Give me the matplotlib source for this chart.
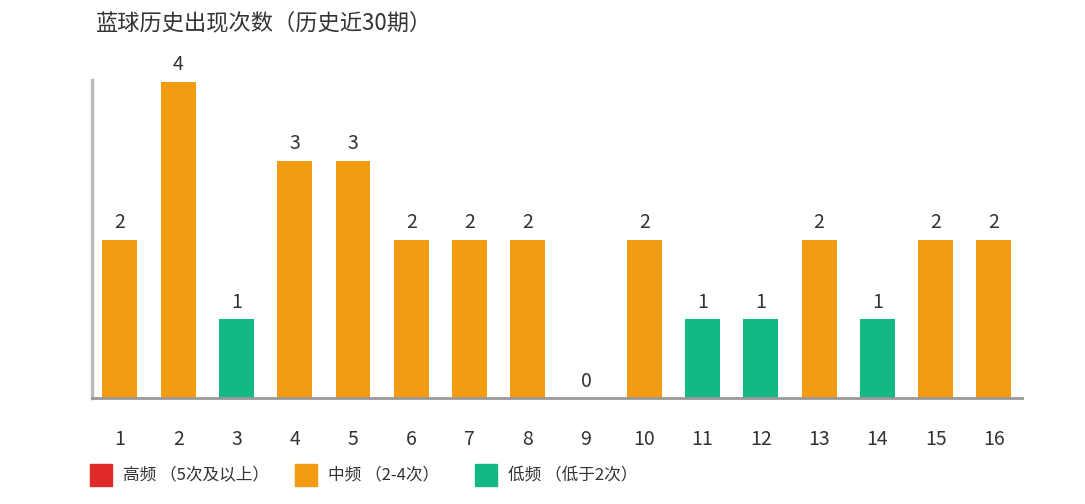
import matplotlib
matplotlib.use("Agg")
import matplotlib.pyplot as plt
from matplotlib.patches import Rectangle

plt.rcParams['font.family'] = ['Noto Sans CJK SC', 'DejaVu Sans']

balls = list(range(1, 17))
counts = [2, 4, 1, 3, 3, 2, 2, 2, 0, 2, 1, 1, 2, 1, 2, 2]
title = "蓝球历史出现次数（历史近30期）"
legend_labels = ["高频 （5次及以上）", "中频 （2-4次）", "低频 （低于2次）"]

RED, ORANGE, GREEN = "#E02A2A", "#F39C12", "#14B885"


def color_of(c):
    if c >= 5:
        return RED
    if c >= 2:
        return ORANGE
    return GREEN


fig = plt.figure(figsize=(10.85, 5.04), dpi=100)
ax = fig.add_axes([0.0848, 0.2103, 0.857, 0.631])
ax.bar(balls, counts, width=0.6, color=[color_of(c) for c in counts], zorder=2)
for b, c in zip(balls, counts):
    ax.text(b, c + 0.08, str(c), ha="center", va="bottom", fontsize=14, color="#333333")

ax.set_xlim(0.52, 16.48)
ax.set_ylim(0, 4.02)
ax.set_xticks(balls)
ax.set_xticklabels([str(b) for b in balls], fontsize=14, color="#333333")
ax.tick_params(axis="x", length=0, pad=22)
ax.set_yticks([])
for s in ("top", "right"):
    ax.spines[s].set_visible(False)
ax.spines["left"].set_color("#bbbbbb")
ax.spines["left"].set_linewidth(2.5)
ax.spines["bottom"].set_color("#999999")
ax.spines["bottom"].set_linewidth(2)

fig.text(0.088, 0.955, title, fontsize=16, color="#333333", ha="left", va="center")

# legend
xs = [0.083, 0.272, 0.438]
for x, col, lab in zip(xs, [RED, ORANGE, GREEN], legend_labels):
    fig.patches.append(Rectangle((x, 0.035), 0.02, 0.044, transform=fig.transFigure,
                                 color=col, figure=fig))
    fig.text(x + 0.03, 0.057, lab, fontsize=12, color="#333333", ha="left", va="center")

fig.savefig("out.png", dpi=100)
